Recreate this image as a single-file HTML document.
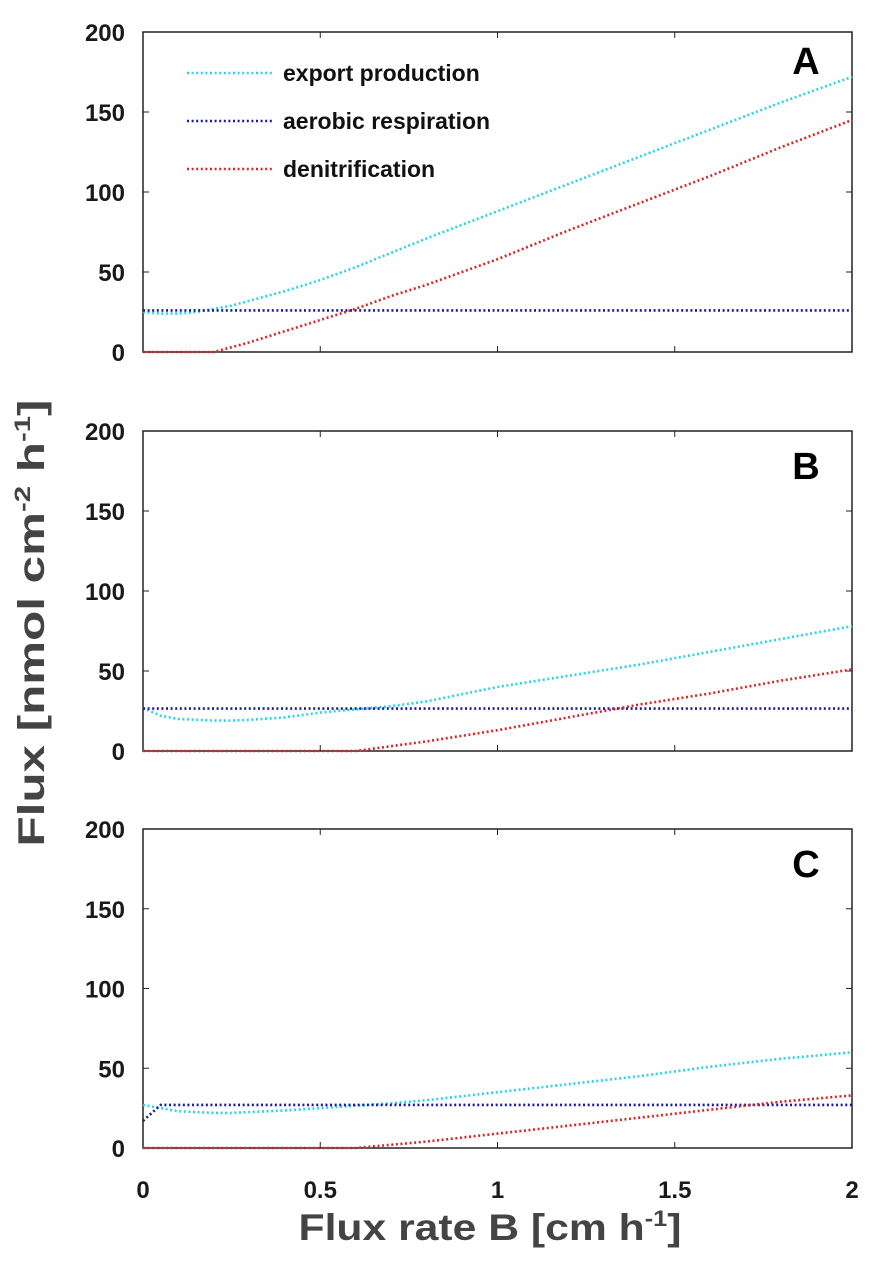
<!DOCTYPE html>
<html><head><meta charset="utf-8"><style>
html,body{margin:0;padding:0;background:#fff;}
svg{display:block;font-family:"Liberation Sans",Arial,sans-serif;}
</style></head><body>
<svg id="chart" width="878" height="1283" viewBox="0 0 878 1283" xmlns="http://www.w3.org/2000/svg">
<g id="plots"></g>
<text x="490" y="1240" text-anchor="middle" font-size="37" font-weight="bold" fill="#444" textLength="383" lengthAdjust="spacingAndGlyphs">Flux rate B [cm h<tspan font-size="22" dy="-14">-1</tspan><tspan dy="14">]</tspan></text>
<text transform="translate(44,623) rotate(-90)" text-anchor="middle" font-size="37" font-weight="bold" fill="#444" textLength="447" lengthAdjust="spacingAndGlyphs">Flux [nmol cm<tspan font-size="22" dy="-14">-2</tspan><tspan dy="14"> h</tspan><tspan font-size="22" dy="-14">-1</tspan><tspan dy="14">]</tspan></text>
</svg>
<script>
const xs = [0,0.05,0.1,0.15,0.2,0.25,0.3,0.4,0.5,0.6,0.7,0.8,1.0,1.2,1.4,1.6,1.8,2.0];
const exportA = [25,24,24,25,27,29,32,38,45,53,62,71,88,105,122,139,156,172];
const aerobicA = [26,26,26,26,26,26,26,26,26,26,26,26,26,26,26,26,26,26];
const denitA = [0,0,0,0,0,3,6,13,20,27,35,42,58,76,93,110,128,145];
const exportB = [27,22,20,19.5,19,19,19.5,21,24,26,28,31,40,47,54,62,70,78];
const aerobicB = [26.5,26.5,26.5,26.5,26.5,26.5,26.5,26.5,26.5,26.5,26.5,26.5,26.5,26.5,26.5,26.5,26.5,26.5];
const denitB = [0,0,0,0,0,0,0,0,0,0,3,6,13,21,29,36,44,51];
const exportC = [27,25,23,22.5,22,22,22.5,23.5,25,26.5,28,30,35,40,45,51,56,60];
const aerobicC = [17,27,27,27,27,27,27,27,27,27,27,27,27,27,27,27,27,27];
const denitC = [0,0,0,0,0,0,0,0,0,0,2,4,9,14,19,24,29,33];
const yTicks = [0,50,100,150,200];
const xTicks = [0,0.5,1,1.5,2];
const xTickLabels = ["0","0.5","1","1.5","2"];
const seriesNames = ["export production","aerobic respiration","denitrification"];
const panelLetters = ["A","B","C"];

const NS="http://www.w3.org/2000/svg";
const colors=["#2ad4e6","#1a1a9e","#d42828"];
const panels=[{top:32,bot:352,data:[exportA,aerobicA,denitA]},{top:431,bot:751,data:[exportB,aerobicB,denitB]},{top:829,bot:1148,data:[exportC,aerobicC,denitC]}];
const L=143,R=852;
const xScale=v=>L+(R-L)*v/2;
const g=document.getElementById('plots');
function mk(tag,attrs,parent){const e=document.createElementNS(NS,tag);for(const k in attrs)e.setAttribute(k,attrs[k]);(parent||g).appendChild(e);return e;}
panels.forEach((p,pi)=>{
  const yScale=v=>p.bot-(p.bot-p.top)*v/200;
  const pg=mk('g',{});
  
  
  const fr=mk('rect',{x:L,y:p.top,width:R-L,height:p.bot-p.top,fill:'none',stroke:'#222','stroke-width':1.5},pg);
  
  
  yTicks.forEach(t=>{
    const y=yScale(t);
    mk('line',{x1:L,x2:L+6,y1:y,y2:y,stroke:'#222'},pg);
    mk('line',{x1:R,x2:R-6,y1:y,y2:y,stroke:'#222'},pg);
    const tx=mk('text',{x:125,y:y+9,'text-anchor':'end','font-size':24,'font-weight':'bold',fill:'#1a1a1a'},pg);
    tx.textContent=t;
    
    
  });
  xTicks.forEach((t,i)=>{
    const x=xScale(t);
    mk('line',{x1:x,x2:x,y1:p.bot,y2:p.bot-6,stroke:'#222'},pg);
    mk('line',{x1:x,x2:x,y1:p.top,y2:p.top+6,stroke:'#222'},pg);
    if(pi===2){
      const tx=mk('text',{x:x,y:1198,'text-anchor':'middle','font-size':24,'font-weight':'bold',fill:'#1a1a1a'},pg);
      tx.textContent=xTickLabels[i];
      
      
    }
  });
  p.data.forEach((arr,si)=>{
    const pts=arr.map((v,i)=>xScale(xs[i]).toFixed(1)+','+yScale(v).toFixed(1)).join(' ');
    const pl=mk('polyline',{points:pts,fill:'none',stroke:colors[si],'stroke-width':2.6,'stroke-dasharray':'2 2.6'},pg);
    
    
  });
  const lt=mk('text',{x:806,y:p.top+(pi===0?42:48),'text-anchor':'middle','font-size':38,'font-weight':'bold',fill:'#000'},pg);
  lt.textContent=panelLetters[pi];
  
  
});
const lg=mk('g',{});


seriesNames.forEach((n,i)=>{
  const y=73+i*48;
  mk('line',{x1:187,x2:273,y1:y,y2:y,stroke:colors[i],'stroke-width':2.6,'stroke-dasharray':'2 2.6'},lg);
  const t=mk('text',{x:283,y:y+8,'font-size':23,'font-weight':'bold',fill:'#111'},lg);
  t.textContent=n;
  
  
});
</script>
</body></html>
